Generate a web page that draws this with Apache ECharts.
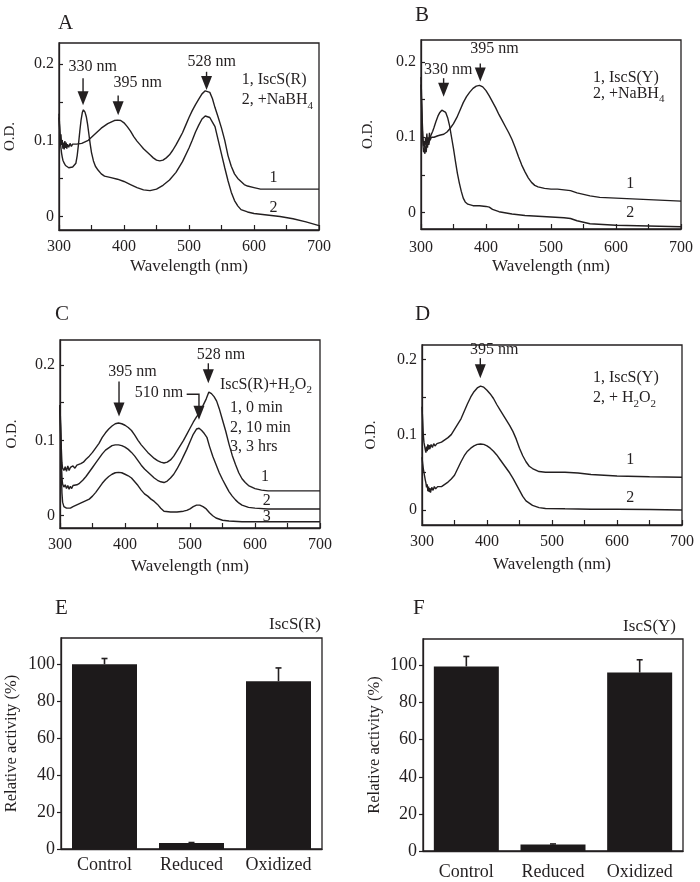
<!DOCTYPE html>
<html><head><meta charset="utf-8">
<script src="https://cdn.jsdelivr.net/npm/echarts@6/dist/echarts.min.js"></script>
<style>html,body{margin:0;padding:0;background:#fff}#c{width:700px;height:882px}</style>
</head><body><div id="c"></div>
<script>
const INK = '#231f20';
const FONT = '"Liberation Serif","Times New Roman",serif';

// ---------- Panel A: IscS(R) and +NaBH4 ----------
const A_iscsR = [[300,0.135],[301,0.118],[302,0.1],[303,0.108],[304,0.094],[305,0.1],[306,0.089],[307,0.097],[308,0.088],[309,0.099],[310,0.09],[311,0.097],[312,0.089],[313,0.095],[315,0.091],[317,0.096],[319,0.092],[321,0.095],[324,0.093],[327,0.095],[330,0.095],[335,0.096],[340,0.098],[345,0.1],[350,0.104],[355,0.108],[360,0.112],[365,0.116],[370,0.119],[375,0.122],[380,0.124],[385,0.126],[390,0.1265],[395,0.126],[400,0.123],[405,0.118],[410,0.112],[415,0.105],[420,0.099],[425,0.094],[430,0.089],[435,0.085],[440,0.081],[445,0.077],[450,0.074],[455,0.073],[460,0.074],[465,0.077],[470,0.081],[475,0.087],[480,0.094],[485,0.102],[490,0.11],[495,0.12],[500,0.13],[505,0.139],[510,0.147],[515,0.154],[520,0.161],[525,0.165],[528,0.166],[532,0.163],[536,0.155],[540,0.143],[545,0.13],[550,0.116],[555,0.1],[560,0.08],[565,0.066],[570,0.056],[575,0.05],[580,0.046],[585,0.042],[590,0.04],[600,0.038],[610,0.036],[620,0.036],[650,0.036],[700,0.036]];
const A_nabh4 = [[300,0.13],[301,0.115],[302,0.1],[303,0.09],[304,0.083],[305,0.078],[306,0.074],[308,0.07],[310,0.067],[312,0.066],[315,0.064],[318,0.065],[321,0.065],[324,0.067],[326,0.07],[328,0.08],[330,0.095],[332,0.112],[334,0.127],[336,0.137],[337.5,0.14],[340,0.137],[342,0.131],[344,0.121],[346,0.108],[348,0.095],[350,0.084],[353,0.073],[356,0.066],[360,0.061],[365,0.056],[370,0.053],[380,0.051],[390,0.049],[400,0.046],[410,0.042],[420,0.038],[430,0.035],[440,0.034],[450,0.036],[460,0.041],[470,0.048],[480,0.058],[490,0.072],[500,0.09],[505,0.1],[510,0.111],[515,0.12],[520,0.128],[525,0.132],[528,0.133],[532,0.13],[536,0.124],[540,0.118],[545,0.1],[550,0.082],[555,0.064],[560,0.047],[565,0.032],[570,0.021],[575,0.014],[580,0.009],[590,0.006],[600,0.004],[620,0.002],[640,0.0],[660,-0.003],[680,-0.007],[700,-0.012]];

// ---------- Panel B: IscS(Y) and +NaBH4 ----------
const B_iscsY = [[300,0.18],[301,0.15],[302,0.12],[303,0.1],[304,0.088],[305,0.095],[306,0.084],[307,0.1],[308,0.09],[309,0.105],[310,0.092],[311,0.1],[312,0.094],[313,0.106],[314,0.096],[316,0.1],[318,0.098],[320,0.1],[323,0.101],[326,0.102],[330,0.103],[335,0.104],[340,0.107],[345,0.112],[350,0.118],[355,0.126],[360,0.136],[365,0.146],[370,0.154],[375,0.16],[380,0.165],[385,0.168],[390,0.169],[395,0.167],[400,0.162],[405,0.155],[410,0.147],[415,0.139],[420,0.13],[425,0.122],[430,0.114],[435,0.106],[440,0.097],[445,0.086],[450,0.074],[455,0.063],[460,0.054],[465,0.046],[470,0.04],[475,0.036],[480,0.034],[490,0.032],[500,0.031],[510,0.031],[520,0.03],[530,0.029],[540,0.026],[550,0.024],[560,0.022],[575,0.02],[600,0.019],[625,0.018],[650,0.017],[675,0.016],[700,0.015]];
const B_nabh4 = [[300,0.17],[301,0.14],[302,0.11],[303,0.09],[304,0.08],[305,0.085],[306,0.078],[307,0.088],[308,0.08],[309,0.092],[310,0.086],[311,0.095],[312,0.09],[314,0.1],[316,0.104],[318,0.108],[320,0.113],[323,0.121],[326,0.128],[329,0.133],[332,0.136],[335,0.136],[338,0.133],[341,0.126],[344,0.115],[347,0.1],[350,0.085],[353,0.068],[356,0.052],[359,0.039],[362,0.028],[365,0.019],[368,0.014],[372,0.011],[380,0.009],[390,0.009],[400,0.008],[405,0.007],[410,0.004],[420,0.001],[440,-0.002],[460,-0.004],[480,-0.005],[500,-0.006],[520,-0.007],[530,-0.008],[540,-0.011],[560,-0.015],[600,-0.017],[650,-0.018],[700,-0.019]];

// ---------- Panel C: IscS(R) + H2O2 ----------
const C_0min = [[300,0.147],[301,0.12],[302,0.09],[303,0.07],[304,0.063],[306,0.06],[308,0.065],[310,0.059],[312,0.066],[314,0.06],[316,0.064],[318,0.062],[320,0.066],[323,0.063],[326,0.067],[329,0.066],[332,0.069],[336,0.071],[340,0.075],[345,0.079],[350,0.084],[355,0.09],[360,0.096],[365,0.104],[370,0.11],[375,0.115],[380,0.119],[385,0.122],[390,0.123],[395,0.122],[400,0.12],[405,0.117],[410,0.113],[415,0.107],[420,0.1],[425,0.094],[430,0.089],[435,0.084],[440,0.08],[445,0.076],[450,0.073],[455,0.071],[460,0.07],[465,0.071],[470,0.074],[475,0.079],[480,0.086],[485,0.093],[490,0.1],[495,0.108],[500,0.116],[505,0.124],[510,0.131],[515,0.137],[520,0.146],[525,0.155],[529,0.164],[533,0.162],[537,0.158],[541,0.152],[545,0.142],[550,0.127],[555,0.112],[560,0.095],[565,0.08],[570,0.068],[575,0.057],[580,0.049],[585,0.044],[590,0.04],[600,0.036],[610,0.034],[620,0.033],[700,0.033]];
const C_10min = [[300,0.147],[301,0.11],[302,0.075],[303,0.05],[304,0.042],[306,0.038],[308,0.041],[310,0.036],[312,0.04],[314,0.035],[316,0.039],[318,0.036],[320,0.04],[323,0.038],[326,0.041],[330,0.043],[335,0.047],[340,0.052],[345,0.058],[350,0.064],[355,0.07],[360,0.076],[365,0.082],[370,0.087],[375,0.09],[380,0.093],[385,0.094],[390,0.094],[395,0.093],[400,0.091],[405,0.088],[410,0.084],[415,0.079],[420,0.073],[425,0.067],[430,0.062],[435,0.058],[440,0.054],[445,0.05],[450,0.047],[455,0.045],[460,0.044],[465,0.046],[470,0.05],[475,0.055],[480,0.062],[485,0.07],[490,0.079],[495,0.088],[500,0.098],[505,0.108],[510,0.115],[514,0.116],[518,0.113],[522,0.109],[526,0.104],[530,0.092],[535,0.079],[540,0.068],[545,0.057],[550,0.048],[555,0.04],[560,0.032],[565,0.026],[570,0.021],[575,0.017],[580,0.014],[590,0.011],[600,0.01],[620,0.009],[700,0.009]];
const C_3hrs = [[300,0.147],[301,0.1],[302,0.06],[303,0.03],[304,0.018],[306,0.012],[308,0.011],[310,0.01],[313,0.011],[316,0.01],[320,0.012],[325,0.014],[330,0.016],[335,0.018],[340,0.02],[345,0.022],[350,0.026],[355,0.031],[360,0.037],[365,0.043],[370,0.048],[375,0.052],[380,0.055],[385,0.057],[390,0.0575],[395,0.057],[400,0.055],[405,0.053],[410,0.05],[415,0.045],[420,0.04],[425,0.034],[430,0.029],[435,0.026],[440,0.022],[445,0.019],[450,0.015],[455,0.01],[460,0.006],[470,0.005],[480,0.005],[490,0.006],[495,0.007],[500,0.009],[505,0.012],[510,0.014],[515,0.014],[520,0.012],[525,0.009],[530,0.004],[535,0.0],[540,-0.003],[550,-0.006],[560,-0.007],[580,-0.008],[650,-0.008],[700,-0.008]];

// ---------- Panel D: IscS(Y) + H2O2 ----------
const D_iscsY = [[300,0.137],[301,0.12],[302,0.1],[303,0.09],[304,0.085],[305,0.08],[306,0.076],[307,0.084],[308,0.078],[309,0.087],[310,0.08],[311,0.086],[312,0.081],[314,0.087],[316,0.083],[318,0.088],[320,0.085],[323,0.088],[326,0.087],[330,0.09],[335,0.093],[340,0.096],[345,0.1],[350,0.107],[355,0.114],[360,0.121],[365,0.131],[370,0.141],[375,0.15],[380,0.157],[385,0.162],[390,0.1645],[395,0.163],[400,0.159],[405,0.154],[410,0.148],[415,0.14],[420,0.133],[425,0.126],[430,0.119],[435,0.112],[440,0.104],[445,0.094],[450,0.082],[455,0.072],[460,0.064],[465,0.058],[470,0.055],[475,0.053],[480,0.051],[490,0.05],[500,0.05],[520,0.05],[540,0.049],[560,0.047],[580,0.046],[600,0.045],[650,0.044],[700,0.0434]];
const D_h2o2 = [[300,0.07],[301,0.062],[302,0.055],[303,0.05],[304,0.045],[305,0.04],[306,0.036],[307,0.03],[308,0.034],[309,0.025],[310,0.031],[311,0.024],[312,0.029],[313,0.023],[315,0.03],[317,0.026],[319,0.031],[321,0.028],[324,0.031],[327,0.03],[330,0.031],[335,0.034],[340,0.037],[345,0.041],[350,0.046],[355,0.055],[360,0.064],[365,0.072],[370,0.078],[375,0.082],[380,0.085],[385,0.087],[390,0.0875],[395,0.087],[400,0.085],[405,0.082],[410,0.078],[415,0.073],[420,0.067],[425,0.061],[430,0.055],[435,0.049],[440,0.042],[445,0.034],[450,0.026],[455,0.018],[460,0.012],[465,0.009],[470,0.006],[480,0.003],[490,0.002],[520,0.0015],[560,0.001],[600,0.001],[650,0.0005],[700,0.0]];

// ---------- Panels E, F: relative activity ----------
const barCats = ['Control', 'Reduced', 'Oxidized'];
const E_activity = [100, 3.2, 90.8];
const E_error = [3.1, 0.3, 7.2];
const F_activity = [99.5, 3.5, 96.2];
const F_error = [5.4, 0.3, 6.9];

// ---------- Axis ticks ----------
const wlLabels = [300, 400, 500, 600, 700];
const odTicks = [0, 0.05, 0.1, 0.15, 0.2];
const odLabels = [0, 0.1, 0.2];
const actTicks = [0, 20, 40, 60, 80, 100];

// ---------- Annotations (data coordinates) ----------
const notes = [
  // panel A (grid 0)
  {g:0, x:352, y:0.196, t:'330 nm'}, {g:0, x:421, y:0.175, t:'395 nm'}, {g:0, x:535, y:0.203, t:'528 nm'},
  {g:0, x:581, y:0.179, t:'1, IscS(R)', a:'left'}, {g:0, x:581, y:0.1527, t:'2, +NaBH_4', a:'left'},
  {g:0, x:630, y:0.0505, t:'1'}, {g:0, x:630, y:0.0111, t:'2'},
  // panel B (grid 1)
  {g:1, x:342, y:0.1895, t:'330 nm'}, {g:1, x:413, y:0.2174, t:'395 nm'},
  {g:1, x:564.6, y:0.179, t:'1, IscS(Y)', a:'left'}, {g:1, x:564.6, y:0.1576, t:'2, +NaBH_4', a:'left'},
  {g:1, x:622, y:0.0377, t:'1'}, {g:1, x:622, y:-0.0008, t:'2'},
  // panel C (grid 2)
  {g:2, x:411.5, y:0.1907, t:'395 nm'}, {g:2, x:547.7, y:0.2132, t:'528 nm'}, {g:2, x:452.3, y:0.1633, t:'510 nm'},
  {g:2, x:546, y:0.1735, t:'IscS(R)+H_2O_2', a:'left'},
  {g:2, x:561.5, y:0.1426, t:'1, 0 min', a:'left'}, {g:2, x:561.5, y:0.1162, t:'2, 10 min', a:'left'}, {g:2, x:561.5, y:0.0918, t:'3, 3 hrs', a:'left'},
  {g:2, x:615.4, y:0.052, t:'1'}, {g:2, x:618, y:0.0199, t:'2'}, {g:2, x:618, y:-0.0017, t:'3'},
  // panel D (grid 3)
  {g:3, x:411.2, y:0.2125, t:'395 nm'},
  {g:3, x:563, y:0.1749, t:'1, IscS(Y)', a:'left'}, {g:3, x:563, y:0.1483, t:'2, + H_2O_2', a:'left'},
  {g:3, x:620.5, y:0.0664, t:'1'}, {g:3, x:620.5, y:0.0155, t:'2'}
];
const arrows = [
  {g:0, p:[[337,0.1815],[337,0.146]]}, {g:0, p:[[391,0.159],[391,0.133]]}, {g:0, p:[[527,0.19],[527,0.166]]},
  {g:1, p:[[334.8,0.1785],[334.8,0.154]]}, {g:1, p:[[391.2,0.198],[391.2,0.174]]},
  {g:2, p:[[390.8,0.1779],[390.8,0.1315]]}, {g:2, p:[[528.2,0.2022],[528.2,0.1758]]},
  {g:2, p:[[494.9,0.1612],[513.8,0.1612],[513.8,0.1272]]},
  {g:3, p:[[389.7,0.2015],[389.7,0.1749]]}
];

// ---------- Build chart ----------
const chart = echarts.init(document.getElementById('c'), null, {renderer: 'canvas'});
const axisLineStyle = {color: INK, width: 1.3};
const txt = (size) => ({color: INK, fontFamily: FONT, fontSize: size});

const grids = [
  {left: 59, top: 43, width: 260, height: 187},
  {left: 421, top: 40, width: 260, height: 189},
  {left: 60, top: 340, width: 260, height: 188},
  {left: 422, top: 345, width: 260, height: 180},
  {left: 61, top: 638, width: 261, height: 211},
  {left: 423, top: 639, width: 260, height: 212}
].map(g => Object.assign({show: true, borderColor: INK, borderWidth: 1.3, backgroundColor: 'transparent', containLabel: false, outerBoundsMode: 'none'}, g));

const specRanges = [[-0.0177, 0.2278], [-0.022, 0.2293], [-0.0163, 0.2331], [-0.02, 0.219]];
const xNameGaps = [28, 29, 30, 31.5];
const xLabelMargins = [9, 11, 9, 9];
const yNameGaps = [41, 45, 40, 43];

const xAxes = [], yAxes = [];
for (let i = 0; i < 4; i++) {
  xAxes.push({gridIndex: i, type: 'value', min: 300, max: 700, interval: 50,
    axisLine: {show: true, onZero: false, lineStyle: axisLineStyle},
    axisTick: {show: true, inside: true, length: 5, lineStyle: {color: INK, width: 1.2}},
    axisLabel: {show: true, customValues: wlLabels, margin: xLabelMargins[i], ...txt(16)},
    splitLine: {show: false},
    name: 'Wavelength (nm)', nameLocation: 'middle', nameGap: xNameGaps[i], nameTextStyle: txt(17)});
  yAxes.push({gridIndex: i, type: 'value', min: specRanges[i][0], max: specRanges[i][1],
    axisLine: {show: true, onZero: false, lineStyle: axisLineStyle},
    axisTick: {show: true, inside: true, length: 4, customValues: odTicks, lineStyle: {color: INK, width: 1.2}},
    axisLabel: {show: true, customValues: odLabels, margin: 5, formatter: v => (Math.abs(v) < 1e-9 ? '0' : String(+v.toFixed(2))), ...txt(16)},
    splitLine: {show: false},
    name: 'O.D.', nameLocation: 'middle', nameRotate: 90, nameGap: yNameGaps[i], nameTextStyle: txt(15)});
}
const barLabelMargins = [7, 12];
const barYNameGaps = [41, 40];
const barMax = [114.2, 114.3];
for (let k = 0; k < 2; k++) {
  const i = 4 + k;
  xAxes.push({gridIndex: i, type: 'category', data: barCats,
    axisLine: {show: true, onZero: false, lineStyle: axisLineStyle}, axisTick: {show: false},
    axisLabel: {margin: barLabelMargins[k], ...txt(18)}, splitLine: {show: false}});
  yAxes.push({gridIndex: i, type: 'value', min: 0, max: barMax[k],
    axisLine: {show: true, onZero: false, lineStyle: axisLineStyle},
    axisTick: {show: true, inside: false, length: 4, customValues: actTicks, lineStyle: {color: INK, width: 1.2}},
    axisLabel: {customValues: actTicks, margin: 6, ...txt(18)},
    splitLine: {show: false},
    name: 'Relative activity (%)', nameLocation: 'middle', nameRotate: 90, nameGap: barYNameGaps[k], nameTextStyle: txt(16.5)});
}

const lineSeries = (data, gi) => ({type: 'line', xAxisIndex: gi, yAxisIndex: gi, data, showSymbol: false, symbol: 'none',
  lineStyle: {color: INK, width: 1.4}, silent: true, animation: false, clip: true, z: 3});

const errorSeries = (vals, errs, gi) => ({type: 'custom', xAxisIndex: gi, yAxisIndex: gi, z: 5, silent: true, animation: false,
  data: vals.map((v, i) => [i, v, v + errs[i]]),
  renderItem: (params, api) => {
    const b = api.coord([api.value(0), api.value(1)]);
    const t = api.coord([api.value(0), api.value(2)]);
    const st = {stroke: INK, lineWidth: 1.6};
    return {type: 'group', children: [
      {type: 'line', shape: {x1: b[0], y1: b[1], x2: b[0], y2: t[1]}, style: st},
      {type: 'line', shape: {x1: b[0] - 3, y1: t[1], x2: b[0] + 3, y2: t[1]}, style: st}
    ]};
  }});

const series = [
  lineSeries(A_iscsR, 0), lineSeries(A_nabh4, 0),
  lineSeries(B_iscsY, 1), lineSeries(B_nabh4, 1),
  lineSeries(C_0min, 2), lineSeries(C_10min, 2), lineSeries(C_3hrs, 2),
  lineSeries(D_iscsY, 3), lineSeries(D_h2o2, 3),
  {type: 'bar', xAxisIndex: 4, yAxisIndex: 4, data: E_activity, barWidth: 65, itemStyle: {color: '#1d1a1b'}, silent: true, animation: false},
  errorSeries(E_activity, E_error, 4),
  {type: 'bar', xAxisIndex: 5, yAxisIndex: 5, data: F_activity, barWidth: 65, itemStyle: {color: '#1d1a1b'}, silent: true, animation: false},
  errorSeries(F_activity, F_error, 5)
];

chart.setOption({backgroundColor: '#fff', animation: false, grid: grids, xAxis: xAxes, yAxis: yAxes, series});

// ---------- Graphic annotations ----------
const rich = {
  n: {fontSize: 16, fontFamily: FONT, color: INK, lineHeight: 22, verticalAlign: 'middle'},
  s: {fontSize: 11, fontFamily: FONT, color: INK, lineHeight: 11, verticalAlign: 'bottom'}
};
const toRich = t => '{n|' + t.replace(/_(\d)/g, '}{s|$1}{n|') + '}';
const graphics = [];
notes.forEach(n => {
  const p = chart.convertToPixel({gridIndex: n.g}, [n.x, n.y]);
  graphics.push({type: 'text', x: p[0], y: p[1], silent: true, z: 20,
    style: {text: toRich(n.t), rich, align: n.a || 'center', verticalAlign: 'middle', fill: INK}});
});
const HEAD_L = 14, HEAD_W = 11;
arrows.forEach(a => {
  const pts = a.p.map(q => chart.convertToPixel({gridIndex: a.g}, q));
  const tip = pts[pts.length - 1];
  const stem = pts.slice(0, -1).concat([[tip[0], tip[1] - HEAD_L + 1]]);
  graphics.push({type: 'polyline', silent: true, z: 20, shape: {points: stem}, style: {stroke: INK, lineWidth: 1.4, fill: null}});
  graphics.push({type: 'polygon', silent: true, z: 20, shape: {points: [[tip[0], tip[1]], [tip[0] - HEAD_W / 2, tip[1] - HEAD_L], [tip[0] + HEAD_W / 2, tip[1] - HEAD_L]]}, style: {fill: INK}});
});
// panel letters and bar panel titles
[['A', 58, 23], ['B', 415, 15], ['C', 55, 314], ['D', 415, 314], ['E', 55, 608], ['F', 413, 608]].forEach(([t, x, y]) => {
  graphics.push({type: 'text', x, y, silent: true, style: {text: t, font: '21px ' + FONT, fill: INK, align: 'left', verticalAlign: 'middle'}});
});
graphics.push({type: 'text', x: 321, y: 625, silent: true, style: {text: 'IscS(R)', font: '17px ' + FONT, fill: INK, align: 'right', verticalAlign: 'middle'}});
graphics.push({type: 'text', x: 676, y: 627, silent: true, style: {text: 'IscS(Y)', font: '17px ' + FONT, fill: INK, align: 'right', verticalAlign: 'middle'}});

chart.setOption({graphic: graphics});
</script></body></html>
